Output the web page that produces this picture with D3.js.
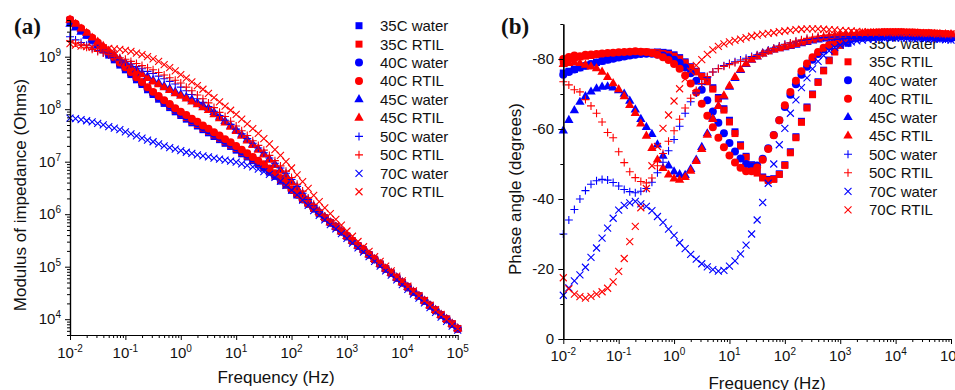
<!DOCTYPE html>
<html>
<head>
<meta charset="utf-8">
<script src="https://cdn.jsdelivr.net/npm/d3@7"></script>
<style>
  html, body { margin: 0; padding: 0; background: #fff; }
  svg { display: block; font-family: "Liberation Sans", Arial, Helvetica, sans-serif; }
</style>
</head>
<body>
<svg id="chart" width="955" height="390"></svg>
<script>
// ---- Sweep frequencies (log10 Hz), 10 points per decade ----
const logFreq = [
  -2.0, -1.9, -1.8, -1.7, -1.6, -1.5, -1.4, -1.3, -1.2, -1.1,
  -1.0, -0.9, -0.8, -0.7, -0.6, -0.5, -0.4, -0.3, -0.2, -0.1,
   0.0,  0.1,  0.2,  0.3,  0.4,  0.5,  0.6,  0.7,  0.8,  0.9,
   1.0,  1.1,  1.2,  1.3,  1.4,  1.5,  1.6,  1.7,  1.8,  1.9,
   2.0,  2.1,  2.2,  2.3,  2.4,  2.5,  2.6,  2.7,  2.8,  2.9,
   3.0,  3.1,  3.2,  3.3,  3.4,  3.5,  3.6,  3.7,  3.8,  3.9,
   4.0,  4.1,  4.2,  4.3,  4.4,  4.5,  4.6,  4.7,  4.8,  4.9,  5.0
];

// ---- Legend entries ----
const seriesNames = ["35C water", "35C RTIL", "40C water", "40C RTIL", "45C water",
                     "45C RTIL", "50C water", "50C RTIL", "70C water", "70C RTIL"];

// ---- Tick labels ----
const freqTickExps = [-2, -1, 0, 1, 2, 3, 4, 5];
const modulusTickExps = [4, 5, 6, 7, 8, 9];
const phaseTicks = [0, -20, -40, -60, -80];

// ---- (a) Modulus of impedance, log10 |Z| (Ohms) ----
const logZ35Water = [
  9.68, 9.59, 9.50, 9.41, 9.31, 9.22, 9.13, 9.03, 8.94, 8.84,
  8.75, 8.66, 8.56, 8.47, 8.37, 8.28, 8.19, 8.11, 8.03, 7.95,
  7.88, 7.81, 7.74, 7.68, 7.61, 7.55, 7.48, 7.42, 7.35, 7.29,
  7.22, 7.15, 7.09, 7.02, 6.95, 6.88, 6.80, 6.72, 6.63, 6.55,
  6.46, 6.37, 6.28, 6.20, 6.11, 6.02, 5.93, 5.84, 5.76, 5.67,
  5.58, 5.49, 5.40, 5.32, 5.23, 5.14, 5.05, 4.96, 4.88, 4.79,
  4.70, 4.61, 4.52, 4.44, 4.35, 4.26, 4.17, 4.08, 4.00, 3.91, 3.82
];
const logZ35RTIL = [
  9.70, 9.61, 9.52, 9.43, 9.34, 9.25, 9.16, 9.06, 8.97, 8.87,
  8.78, 8.69, 8.59, 8.50, 8.40, 8.31, 8.22, 8.14, 8.06, 7.98,
  7.91, 7.84, 7.77, 7.71, 7.64, 7.58, 7.51, 7.45, 7.38, 7.32,
  7.25, 7.18, 7.11, 7.04, 6.97, 6.90, 6.82, 6.74, 6.65, 6.56,
  6.47, 6.38, 6.29, 6.20, 6.11, 6.02, 5.93, 5.84, 5.76, 5.67,
  5.58, 5.49, 5.40, 5.32, 5.23, 5.14, 5.05, 4.96, 4.88, 4.79,
  4.70, 4.61, 4.52, 4.44, 4.35, 4.26, 4.17, 4.08, 4.00, 3.91, 3.82
];
const logZ40Water = [
  9.70, 9.61, 9.51, 9.42, 9.33, 9.24, 9.14, 9.05, 8.96, 8.86,
  8.77, 8.68, 8.58, 8.49, 8.39, 8.30, 8.22, 8.14, 8.07, 7.99,
  7.92, 7.86, 7.79, 7.73, 7.66, 7.60, 7.53, 7.47, 7.40, 7.34,
  7.27, 7.20, 7.13, 7.06, 6.99, 6.92, 6.84, 6.75, 6.67, 6.58,
  6.46, 6.37, 6.28, 6.20, 6.11, 6.02, 5.93, 5.84, 5.76, 5.67,
  5.58, 5.49, 5.40, 5.32, 5.23, 5.14, 5.05, 4.96, 4.88, 4.79,
  4.70, 4.61, 4.52, 4.44, 4.35, 4.26, 4.17, 4.08, 4.00, 3.91, 3.82
];
const logZ40RTIL = [
  9.71, 9.63, 9.54, 9.45, 9.36, 9.27, 9.17, 9.08, 8.99, 8.89,
  8.80, 8.71, 8.61, 8.52, 8.42, 8.33, 8.25, 8.17, 8.10, 8.02,
  7.95, 7.89, 7.82, 7.76, 7.69, 7.63, 7.56, 7.50, 7.43, 7.37,
  7.30, 7.23, 7.16, 7.09, 7.02, 6.95, 6.87, 6.78, 6.69, 6.60,
  6.47, 6.38, 6.29, 6.20, 6.11, 6.02, 5.93, 5.84, 5.76, 5.67,
  5.58, 5.49, 5.40, 5.32, 5.23, 5.14, 5.05, 4.96, 4.88, 4.79,
  4.70, 4.61, 4.52, 4.44, 4.35, 4.26, 4.17, 4.08, 4.00, 3.91, 3.82
];
const logZ45Water = [
  9.62, 9.55, 9.47, 9.40, 9.32, 9.25, 9.18, 9.10, 9.03, 8.95,
  8.88, 8.81, 8.75, 8.68, 8.62, 8.55, 8.50, 8.44, 8.39, 8.33,
  8.28, 8.23, 8.18, 8.12, 8.07, 8.02, 7.94, 7.85, 7.77, 7.68,
  7.60, 7.51, 7.42, 7.33, 7.24, 7.15, 7.05, 6.95, 6.84, 6.74,
  6.62, 6.50, 6.38, 6.26, 6.15, 6.05, 5.94, 5.84, 5.76, 5.67,
  5.58, 5.49, 5.40, 5.32, 5.23, 5.14, 5.05, 4.96, 4.88, 4.79,
  4.70, 4.61, 4.52, 4.44, 4.35, 4.26, 4.17, 4.08, 4.00, 3.91, 3.82
];
const logZ45RTIL = [
  9.70, 9.62, 9.53, 9.45, 9.36, 9.28, 9.20, 9.11, 9.03, 8.94,
  8.86, 8.79, 8.72, 8.66, 8.59, 8.52, 8.47, 8.41, 8.36, 8.30,
  8.25, 8.20, 8.14, 8.09, 8.03, 7.98, 7.90, 7.82, 7.74, 7.66,
  7.58, 7.49, 7.40, 7.31, 7.22, 7.13, 7.03, 6.93, 6.82, 6.72,
  6.60, 6.48, 6.36, 6.25, 6.14, 6.04, 5.94, 5.84, 5.76, 5.67,
  5.58, 5.49, 5.40, 5.32, 5.23, 5.14, 5.05, 4.96, 4.88, 4.79,
  4.70, 4.61, 4.52, 4.44, 4.35, 4.26, 4.17, 4.08, 4.00, 3.91, 3.82
];
const logZ50Water = [
  9.38, 9.32, 9.27, 9.22, 9.17, 9.12, 9.08, 9.03, 8.99, 8.94,
  8.90, 8.86, 8.81, 8.77, 8.72, 8.68, 8.63, 8.58, 8.53, 8.48,
  8.42, 8.35, 8.28, 8.20, 8.13, 8.05, 7.96, 7.88, 7.79, 7.71,
  7.62, 7.53, 7.44, 7.35, 7.26, 7.17, 7.07, 6.97, 6.88, 6.78,
  6.66, 6.53, 6.40, 6.28, 6.16, 6.05, 5.95, 5.84, 5.76, 5.67,
  5.58, 5.49, 5.40, 5.32, 5.23, 5.14, 5.05, 4.96, 4.88, 4.79,
  4.70, 4.61, 4.52, 4.44, 4.35, 4.26, 4.17, 4.08, 4.00, 3.91, 3.82
];
const logZ50RTIL = [
  9.30, 9.26, 9.22, 9.18, 9.14, 9.10, 9.07, 9.04, 9.01, 8.98,
  8.95, 8.91, 8.87, 8.83, 8.79, 8.75, 8.70, 8.65, 8.60, 8.55,
  8.50, 8.42, 8.35, 8.27, 8.20, 8.12, 8.03, 7.94, 7.86, 7.77,
  7.68, 7.59, 7.50, 7.40, 7.31, 7.22, 7.12, 7.02, 6.92, 6.82,
  6.70, 6.57, 6.44, 6.31, 6.19, 6.07, 5.96, 5.84, 5.76, 5.67,
  5.58, 5.49, 5.40, 5.32, 5.23, 5.14, 5.05, 4.96, 4.88, 4.79,
  4.70, 4.61, 4.52, 4.44, 4.35, 4.26, 4.17, 4.08, 4.00, 3.91, 3.82
];
const logZ70Water = [
  7.83, 7.82, 7.80, 7.78, 7.76, 7.73, 7.70, 7.67, 7.64, 7.61,
  7.57, 7.53, 7.49, 7.45, 7.41, 7.38, 7.34, 7.30, 7.27, 7.24,
  7.21, 7.18, 7.16, 7.13, 7.11, 7.09, 7.07, 7.05, 7.03, 7.01,
  6.99, 6.96, 6.93, 6.90, 6.86, 6.81, 6.76, 6.70, 6.63, 6.55,
  6.46, 6.37, 6.27, 6.17, 6.07, 5.98, 5.89, 5.80, 5.72, 5.63,
  5.54, 5.45, 5.36, 5.28, 5.19, 5.10, 5.01, 4.92, 4.84, 4.75,
  4.66, 4.57, 4.48, 4.40, 4.31, 4.22, 4.13, 4.04, 3.96, 3.87, 3.79
];
const logZ70RTIL = [
  9.25, 9.22, 9.20, 9.19, 9.18, 9.18, 9.17, 9.16, 9.15, 9.14,
  9.12, 9.10, 9.07, 9.04, 9.00, 8.96, 8.91, 8.85, 8.79, 8.73,
  8.66, 8.59, 8.52, 8.45, 8.38, 8.30, 8.22, 8.14, 8.06, 7.98,
  7.90, 7.81, 7.72, 7.63, 7.54, 7.44, 7.34, 7.23, 7.12, 7.00,
  6.88, 6.75, 6.62, 6.49, 6.36, 6.24, 6.12, 6.01, 5.90, 5.79,
  5.68, 5.58, 5.48, 5.38, 5.29, 5.19, 5.10, 5.01, 4.92, 4.82,
  4.73, 4.63, 4.54, 4.45, 4.36, 4.27, 4.18, 4.09, 4.00, 3.91, 3.82
];

// ---- (b) Phase angle (degrees) ----
const phase35Water = [
  -76.0, -76.5, -77.0, -77.5, -78.0, -78.5, -79.0, -79.4, -79.8, -80.2,
  -80.5, -80.8, -81.1, -81.4, -81.6, -81.8, -81.9, -82.0, -81.9, -81.7,
  -81.2, -80.4, -79.2, -77.8, -76.5, -75.2, -73.8, -71.8, -69.0, -65.8,
  -62.5, -59.2, -55.5, -52.2, -49.8, -47.8, -46.3, -45.6, -45.8, -47.2,
  -49.8, -53.5, -57.8, -62.2, -66.3, -70.0, -73.5, -76.8, -79.7, -82.2,
  -84.0, -85.2, -86.0, -86.5, -86.8, -87.0, -87.1, -87.1, -87.2, -87.2,
  -87.2, -87.1, -87.1, -87.0, -86.9, -86.8, -86.7, -86.6, -86.5, -86.3, -86.1
];
const phase35RTIL = [
  -79.5, -80.0, -80.3, -80.6, -80.8, -81.0, -81.2, -81.4, -81.5, -81.6,
  -81.7, -81.8, -81.9, -82.0, -82.0, -82.0, -81.9, -81.8, -81.6, -81.3,
  -80.8, -80.0, -78.9, -77.6, -76.3, -75.0, -73.5, -71.4, -68.6, -65.4,
  -62.0, -58.7, -55.1, -51.9, -49.4, -47.4, -46.0, -45.3, -45.6, -47.0,
  -49.6, -53.2, -57.5, -61.9, -66.0, -69.8, -73.3, -76.6, -79.5, -82.0,
  -83.9, -85.3, -86.2, -86.8, -87.2, -87.5, -87.6, -87.7, -87.8, -87.8,
  -87.8, -87.8, -87.7, -87.7, -87.6, -87.5, -87.5, -87.4, -87.3, -87.2, -87.1
];
const phase40Water = [
  -75.5, -76.3, -77.0, -77.6, -78.1, -78.6, -79.0, -79.4, -79.8, -80.1,
  -80.4, -80.7, -81.0, -81.2, -81.4, -81.5, -81.5, -81.3, -81.0, -80.5,
  -79.8, -78.9, -77.6, -75.9, -73.8, -71.2, -68.2, -65.0, -61.8, -58.8,
  -56.0, -53.6, -51.6, -50.0, -49.2, -49.6, -51.5, -54.5, -58.3, -62.5,
  -66.3, -69.8, -72.8, -75.5, -77.8, -79.8, -81.4, -82.7, -83.7, -84.5,
  -85.0, -85.4, -85.7, -85.9, -86.1, -86.2, -86.3, -86.4, -86.4, -86.5,
  -86.5, -86.5, -86.5, -86.4, -86.4, -86.3, -86.3, -86.2, -86.1, -86.0, -85.9
];
const phase40RTIL = [
  -80.0, -80.6, -81.0, -80.8, -81.2, -81.3, -81.4, -81.6, -81.7, -81.8,
  -81.9, -82.0, -82.1, -82.2, -82.1, -82.0, -81.7, -81.2, -80.5, -79.7,
  -78.6, -77.2, -75.3, -73.0, -70.4, -67.2, -63.8, -60.5, -57.5, -54.8,
  -52.4, -50.4, -48.9, -47.9, -47.9, -49.0, -51.2, -54.3, -58.2, -62.5,
  -66.8, -70.6, -73.8, -76.5, -78.7, -80.5, -82.0, -83.2, -84.1, -84.8,
  -85.4, -85.9, -86.3, -86.6, -86.9, -87.1, -87.2, -87.3, -87.4, -87.4,
  -87.5, -87.5, -87.5, -87.4, -87.4, -87.3, -87.3, -87.2, -87.1, -87.0, -86.9
];
const phase45Water = [
  -59.5, -62.5, -65.3, -67.7, -69.3, -70.6, -71.5, -72.0, -72.1, -71.8,
  -71.0, -70.0, -68.0, -65.5, -62.8, -60.5, -58.5, -55.5, -52.3, -49.5,
  -47.8, -47.0, -46.8, -48.5, -51.2, -54.8, -58.7, -63.0, -66.5, -69.2,
  -72.0, -74.5, -76.8, -78.5, -79.7, -80.6, -81.5, -82.1, -82.6, -83.0,
  -83.3, -83.6, -84.0, -84.4, -84.8, -85.2, -85.5, -85.8, -86.0, -86.2,
  -86.3, -86.4, -86.5, -86.5, -86.6, -86.6, -86.6, -86.6, -86.6, -86.5,
  -86.5, -86.5, -86.4, -86.4, -86.3, -86.3, -86.2, -86.2, -86.1, -86.0, -85.9
];
const phase45RTIL = [
  -78.5, -78.8, -79.0, -78.8, -78.3, -77.8, -77.3, -76.3, -74.8, -73.0,
  -71.3, -69.3, -66.8, -64.5, -61.5, -58.0, -54.5, -51.2, -48.8, -46.9,
  -45.8, -45.4, -46.2, -48.0, -50.8, -54.2, -58.3, -62.8, -66.5, -69.5,
  -72.3, -74.8, -77.0, -78.6, -79.8, -80.7, -81.5, -82.1, -82.6, -83.0,
  -83.4, -83.8, -84.2, -84.6, -85.0, -85.4, -85.8, -86.1, -86.4, -86.6,
  -86.8, -87.0, -87.1, -87.2, -87.3, -87.3, -87.4, -87.4, -87.4, -87.4,
  -87.4, -87.4, -87.3, -87.3, -87.3, -87.2, -87.2, -87.1, -87.1, -87.0, -87.0
];
const phase50Water = [
  -30.0, -34.0, -37.0, -40.0, -42.4, -44.2, -45.2, -45.6, -45.4, -44.7,
  -43.7, -42.7, -42.1, -41.8, -42.2, -43.0, -44.8, -47.5, -50.5, -53.8,
  -57.0, -60.8, -64.5, -67.8, -70.3, -72.8, -74.8, -76.3, -77.3, -78.1,
  -78.7, -79.2, -79.7, -80.2, -80.7, -81.2, -81.8, -82.5, -83.1, -83.7,
  -84.2, -84.6, -85.0, -85.3, -85.6, -85.8, -86.0, -86.1, -86.2, -86.3,
  -86.3, -86.4, -86.4, -86.4, -86.4, -86.4, -86.4, -86.3, -86.3, -86.3,
  -86.2, -86.2, -86.1, -86.1, -86.0, -86.0, -85.9, -85.9, -85.8, -85.7, -85.6
];
const phase50RTIL = [
  -73.5, -72.6, -71.2, -70.6, -68.4, -66.6, -64.5, -62.0, -59.0, -57.5,
  -53.5, -50.4, -47.8, -46.1, -45.0, -44.6, -46.0, -49.5, -53.0, -56.5,
  -59.5, -62.8, -66.0, -68.8, -71.0, -73.0, -75.0, -76.3, -77.2, -77.9,
  -78.4, -78.9, -79.3, -79.8, -80.4, -81.0, -81.6, -82.3, -83.0, -83.6,
  -84.1, -84.6, -85.1, -85.5, -85.9, -86.2, -86.5, -86.7, -86.9, -87.0,
  -87.1, -87.2, -87.3, -87.3, -87.4, -87.4, -87.4, -87.4, -87.4, -87.4,
  -87.4, -87.3, -87.3, -87.3, -87.2, -87.2, -87.1, -87.1, -87.0, -87.0, -86.9
];
const phase70Water = [
  -12.5, -14.6, -16.6, -18.3, -20.5, -23.3, -26.0, -28.8, -31.7, -34.5,
  -36.8, -38.2, -38.9, -39.3, -38.6, -37.9, -36.7, -35.0, -33.3, -31.4,
  -29.6, -27.5, -25.8, -24.2, -22.8, -21.5, -20.6, -19.8, -19.4, -19.6,
  -20.8, -22.3, -24.3, -26.8, -30.0, -34.0, -39.0, -44.5, -50.0, -55.5,
  -60.2, -64.5, -68.3, -71.8, -74.6, -77.2, -79.3, -81.0, -82.3, -83.3,
  -84.0, -84.5, -84.9, -85.2, -85.4, -85.6, -85.7, -85.8, -85.9, -86.0,
  -86.0, -86.0, -86.0, -85.9, -85.9, -85.8, -85.8, -85.7, -85.6, -85.5, -85.4
];
const phase70RTIL = [
  -17.5, -14.3, -12.8, -12.1, -11.7, -12.2, -12.8, -13.5, -14.5, -16.3,
  -19.3, -23.0, -27.8, -32.2, -37.5, -43.0, -49.5, -55.0, -60.2, -64.0,
  -68.0, -71.5, -74.3, -76.5, -78.2, -79.8, -81.3, -82.6, -83.6, -84.3,
  -84.9, -85.3, -85.7, -86.1, -86.5, -86.8, -87.1, -87.3, -87.5, -87.8,
  -88.0, -88.2, -88.4, -88.5, -88.6, -88.6, -88.6, -88.5, -88.4, -88.3,
  -88.2, -88.1, -88.0, -87.9, -87.8, -87.7, -87.7, -87.6, -87.6, -87.5,
  -87.5, -87.5, -87.4, -87.4, -87.4, -87.3, -87.3, -87.3, -87.2, -87.2, -87.2
];

// ---- Series table (drawn in legend order) ----
const BLUE = "#0000ff", RED = "#ff0000";
const series = [
  { name: seriesNames[0], color: BLUE, shape: "square",   logZ: logZ35Water, phase: phase35Water },
  { name: seriesNames[1], color: RED,  shape: "square",   logZ: logZ35RTIL,  phase: phase35RTIL },
  { name: seriesNames[2], color: BLUE, shape: "circle",   logZ: logZ40Water, phase: phase40Water },
  { name: seriesNames[3], color: RED,  shape: "circle",   logZ: logZ40RTIL,  phase: phase40RTIL },
  { name: seriesNames[4], color: BLUE, shape: "triangle", logZ: logZ45Water, phase: phase45Water },
  { name: seriesNames[5], color: RED,  shape: "triangle", logZ: logZ45RTIL,  phase: phase45RTIL },
  { name: seriesNames[6], color: BLUE, shape: "plus",     logZ: logZ50Water, phase: phase50Water },
  { name: seriesNames[7], color: RED,  shape: "plus",     logZ: logZ50RTIL,  phase: phase50RTIL },
  { name: seriesNames[8], color: BLUE, shape: "cross",    logZ: logZ70Water, phase: phase70Water },
  { name: seriesNames[9], color: RED,  shape: "cross",    logZ: logZ70RTIL,  phase: phase70RTIL }
];

const svg = d3.select("#chart");
const FONT = 15;

// ---- Marker painter ----
const symbolPaths = {
  square:   d3.symbol().type(d3.symbolSquare).size(49)(),
  circle:   d3.symbol().type(d3.symbolCircle).size(50)(),
  triangle: d3.symbol().type(d3.symbolTriangle).size(38)(),
  plus:     "M-4,0H4M0,-4V4",
  cross:    "M-3.5,-3.5L3.5,3.5M-3.5,3.5L3.5,-3.5"
};
function paintMarker(sel, shape, color) {
  sel.attr("d", symbolPaths[shape]);
  if (shape === "plus" || shape === "cross") {
    sel.attr("fill", "none").attr("stroke", color).attr("stroke-width", 1.1);
  } else {
    sel.attr("fill", color).attr("stroke", "none");
  }
}

// ---- Power-of-ten label ----
function powLabel(g, exp, x, y, anchor) {
  const t = g.append("text").attr("x", x).attr("y", y)
    .attr("text-anchor", anchor).attr("font-size", FONT).attr("fill", "#111");
  t.append("tspan").text("10");
  t.append("tspan").attr("dy", -6).attr("font-size", 10).text(String(exp));
  return t;
}

function logMinorTicks(domain) {
  const out = [];
  const lo = Math.floor(Math.log10(domain[0])), hi = Math.ceil(Math.log10(domain[1]));
  for (let e = lo; e <= hi; e++) {
    for (let m = 2; m <= 9; m++) {
      const v = m * Math.pow(10, e);
      if (v >= domain[0] && v <= domain[1]) out.push(v);
    }
  }
  return out;
}

function styleAxis(g) {
  g.selectAll("path.domain").attr("stroke", "#000").attr("stroke-width", 1.2);
  g.selectAll(".tick line").attr("stroke", "#000").attr("stroke-width", 1);
  g.selectAll(".tick text").remove();
}

function drawLegend(g, x0, y0, step) {
  series.forEach((s, i) => {
    const y = y0 + i * step;
    g.append("path").attr("transform", `translate(${x0},${y})`).call(paintMarker, s.shape, s.color);
    g.append("text").attr("x", x0 + 21).attr("y", y).attr("dy", "0.36em")
      .attr("font-size", FONT).attr("fill", "#111").text(s.name);
  });
}

// ================= Panel (a) =================
{
  const x = d3.scaleLog().domain([1e-2, 1e5]).range([70, 457.7]);
  const y = d3.scaleLog().domain([5e3, 5e9]).range([335, 20]);
  const g = svg.append("g");

  // legend
  drawLegend(g.append("g"), 359, 25.7, 18.45);

  // data
  series.forEach(s => {
    g.append("g").selectAll("path").data(logFreq.map((lf, i) => [lf, s.logZ[i]]))
      .join("path")
      .attr("transform", d => `translate(${x(Math.pow(10, d[0]))},${y(Math.pow(10, d[1]))})`)
      .call(paintMarker, s.shape, s.color);
  });

  // x axis
  const xMaj = freqTickExps.map(e => Math.pow(10, e));
  g.append("g").attr("transform", "translate(0,335)")
    .call(d3.axisBottom(x).tickValues(logMinorTicks(x.domain())).tickSize(3).tickSizeOuter(0)).call(styleAxis);
  g.append("g").attr("transform", "translate(0,335)")
    .call(d3.axisBottom(x).tickValues(xMaj).tickSize(5).tickSizeOuter(0)).call(styleAxis);
  freqTickExps.forEach(e => powLabel(g, e, x(Math.pow(10, e)), 358, "middle"));

  // y axis
  const yMaj = modulusTickExps.map(e => Math.pow(10, e));
  g.append("g").attr("transform", "translate(70,0)")
    .call(d3.axisLeft(y).tickValues(logMinorTicks(y.domain())).tickSize(3).tickSizeOuter(0)).call(styleAxis);
  g.append("g").attr("transform", "translate(70,0)")
    .call(d3.axisLeft(y).tickValues(yMaj).tickSize(5).tickSizeOuter(0)).call(styleAxis);
  modulusTickExps.forEach(e => powLabel(g, e, 61, y(Math.pow(10, e)) + 5, "end"));

  // titles
  g.append("text").attr("x", 276).attr("y", 383).attr("text-anchor", "middle")
    .attr("font-size", 17).attr("fill", "#111").text("Frequency (Hz)");
  g.append("text").attr("transform", "translate(26,195) rotate(-90)").attr("text-anchor", "middle")
    .attr("font-size", 17).attr("fill", "#111").text("Modulus of impedance (Ohms)");
  g.append("text").attr("x", 14).attr("y", 34).attr("font-family", "'Liberation Serif', 'Times New Roman', serif")
    .attr("font-weight", "bold").attr("font-size", 23).attr("fill", "#111").text("(a)");
}

// ================= Panel (b) =================
{
  const x = d3.scaleLog().domain([1e-2, 1e5]).range([563.3, 951]);
  const y = d3.scaleLinear().domain([0, -90]).range([339, 24]);
  const g = svg.append("g");

  // legend sits under the data
  drawLegend(g.append("g"), 848, 43.3, 18.5);

  series.forEach(s => {
    g.append("g").selectAll("path").data(logFreq.map((lf, i) => [lf, s.phase[i]]))
      .join("path")
      .attr("transform", d => `translate(${x(Math.pow(10, d[0]))},${y(d[1])})`)
      .call(paintMarker, s.shape, s.color);
  });

  // x axis
  const xMaj = freqTickExps.map(e => Math.pow(10, e));
  g.append("g").attr("transform", "translate(0,339)")
    .call(d3.axisBottom(x).tickValues(logMinorTicks(x.domain())).tickSize(3).tickSizeOuter(0)).call(styleAxis);
  g.append("g").attr("transform", "translate(0,339)")
    .call(d3.axisBottom(x).tickValues(xMaj).tickSize(5).tickSizeOuter(0)).call(styleAxis);
  freqTickExps.forEach(e => powLabel(g, e, x(Math.pow(10, e)), 361, "middle"));

  // y axis
  g.append("g").attr("transform", "translate(563.3,0)")
    .call(d3.axisLeft(y).tickValues([-10, -30, -50, -70, -90]).tickSize(3).tickSizeOuter(0)).call(styleAxis);
  g.append("g").attr("transform", "translate(563.3,0)")
    .call(d3.axisLeft(y).tickValues(phaseTicks).tickSize(5).tickSizeOuter(0)).call(styleAxis);
  phaseTicks.forEach(v => g.append("text").attr("x", 554).attr("y", y(v)).attr("dy", "0.36em")
    .attr("text-anchor", "end").attr("font-size", FONT).attr("fill", "#111").text(String(v)));

  // titles
  g.append("text").attr("x", 767).attr("y", 389).attr("text-anchor", "middle")
    .attr("font-size", 17).attr("fill", "#111").text("Frequency (Hz)");
  g.append("text").attr("transform", "translate(521,189) rotate(-90)").attr("text-anchor", "middle")
    .attr("font-size", 17).attr("fill", "#111").text("Phase angle (degrees)");
  g.append("text").attr("x", 501).attr("y", 34).attr("font-family", "'Liberation Serif', 'Times New Roman', serif")
    .attr("font-weight", "bold").attr("font-size", 23).attr("fill", "#111").text("(b)");
}
</script>
</body>
</html>
